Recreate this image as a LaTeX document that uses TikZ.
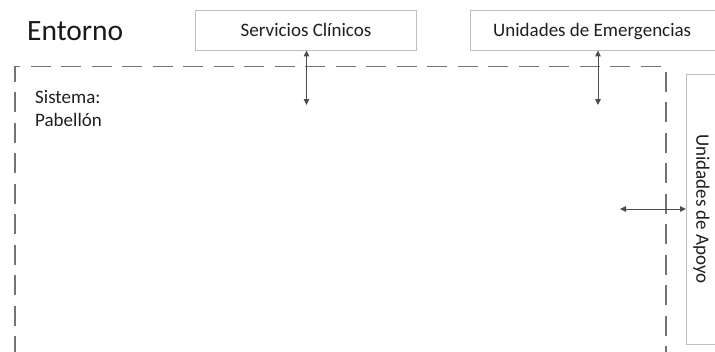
\documentclass[tikz,border=0pt]{standalone}
\usepackage{fontspec}
\setmainfont{Carlito}
\usetikzlibrary{arrows.meta}
\begin{document}
\begin{tikzpicture}[x=1bp,y=-1bp,
  envbox/.style={draw=black!25, fill=white, line width=0.9bp, inner sep=0pt},
  sysline/.style={draw=black!55, line width=1.4bp, dash pattern=on 20bp off 10.5bp},
  link/.style={draw=black!70, line width=1bp, {Triangle[length=6bp,width=5.5bp]}-{Triangle[length=6bp,width=5.5bp]}},
  lbl/.style={font=\fontsize{19bp}{23bp}\selectfont, text=black!88}]
  \useasboundingbox (0,0) rectangle (715,351);
  % system boundary (open at the bottom)
  \draw[sysline] (15,356) -- (15,66.5) -- (666,66.5) -- (666,356);
  % environment label and system label (base = baseline of the last line)
  \node[anchor=base west, font=\fontsize{29.5bp}{34bp}\selectfont, text=black!90, inner sep=0pt] (entorno) at (27,40) {Entorno};
  \node[lbl, anchor=base west, align=left, inner sep=0pt] (sistema) at (35,126.5) {Sistema:\\Pabellón};
  % surrounding units
  \node[envbox, lbl, minimum width=221bp, minimum height=40bp] (servicios) at (306,30) {Servicios Clínicos};
  \node[envbox, minimum width=260bp, minimum height=40bp, anchor=west] (emergencias) at (470,30) {};
  \node[lbl, anchor=base west, inner sep=0pt] (emergtxt) at (493,36) {Unidades de Emergencias};
  \node[envbox, minimum width=40bp, minimum height=270bp, anchor=north west] (apoyo) at (686,74) {};
  \node[lbl, rotate=-90, inner sep=0pt] (apoyotxt) at (701.5,209) {Unidades de Apoyo};
  % interaction arrows
  \coordinate (p1) at (306.5,105);
  \coordinate (p2) at (598,105);
  \coordinate (p3) at (620,209);
  \draw[link] (servicios.south -| p1) -- (p1);
  \draw[link] (emergencias.south -| p2) -- (p2);
  \draw[link] (p3) -- (apoyo.west |- p3);
\end{tikzpicture}
\end{document}
